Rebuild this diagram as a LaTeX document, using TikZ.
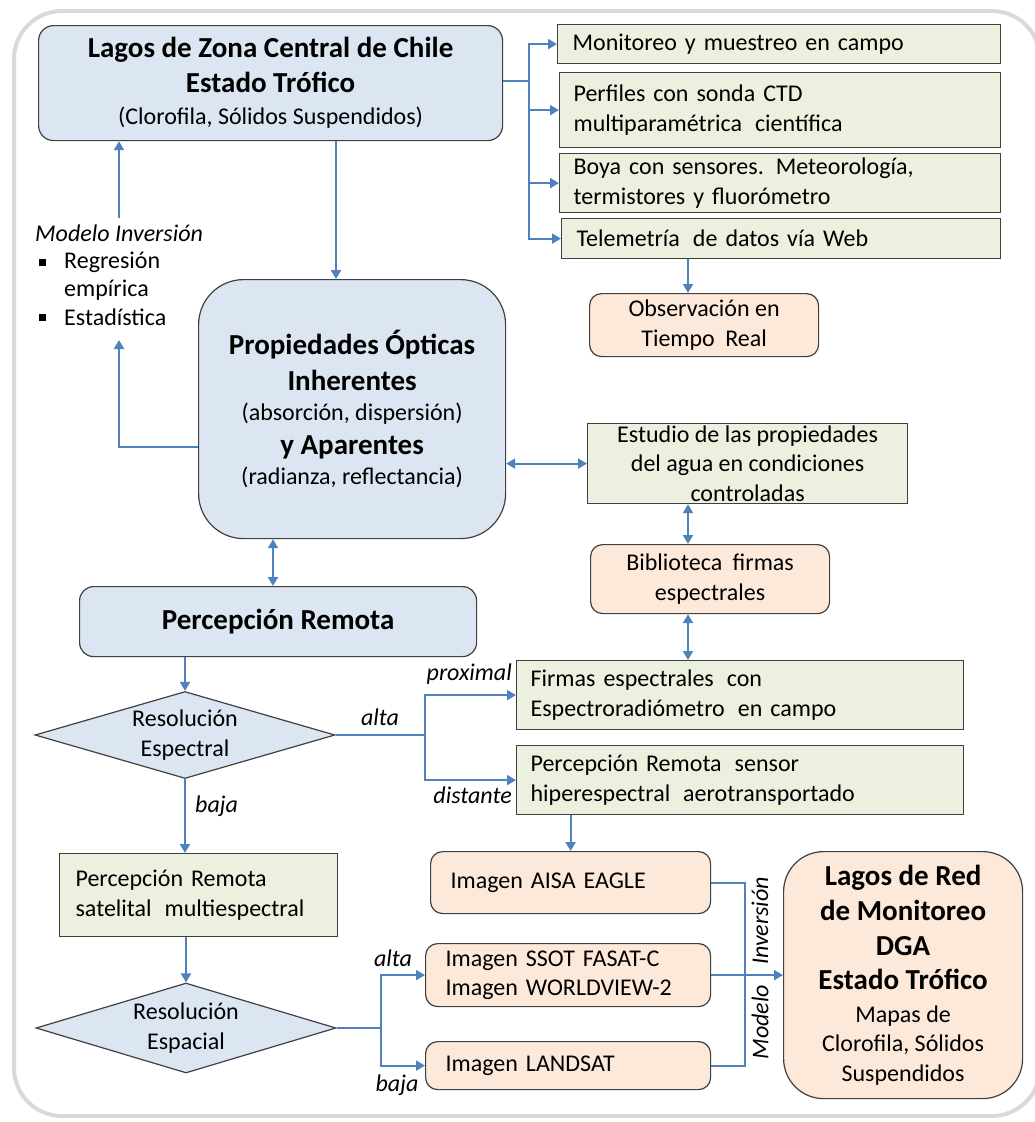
\documentclass[tikz,border=0pt]{standalone}
\usepackage{fontspec}
\setmainfont{Carlito}
\usetikzlibrary{shapes.geometric,arrows.meta,calc}
\definecolor{bluef}{HTML}{DCE6F2}
\definecolor{greenf}{HTML}{EBF1DE}
\definecolor{peachf}{HTML}{FDE9D9}
\definecolor{linec}{HTML}{4F81BD}
\definecolor{bordc}{HTML}{404040}
\definecolor{framec}{HTML}{D9D9D9}
\newcommand{\nf}{\fontsize{24}{29.5}\selectfont}
\newcommand{\bfb}{\fontsize{29}{29.5}\selectfont\bfseries}
\newcommand{\gap}{\hspace{5pt}\ }
\tikzset{
  box/.style={draw=bordc, line width=1.2pt, inner sep=0pt, anchor=north west, font=\nf},
  gbox/.style={box, fill=greenf},
  pbox/.style={box, fill=peachf, rounded corners=12pt},
  bbox/.style={box, fill=bluef, rounded corners=15pt},
  dia/.style={shape=diamond, draw=bordc, fill=bluef, line width=1.2pt, inner sep=0pt},
  conn/.style={draw=linec, line width=2pt},
  arr/.style={conn, -{Triangle[length=9pt,width=10pt]}},
  darr/.style={conn, {Triangle[length=9pt,width=10pt]}-{Triangle[length=9pt,width=10pt]}},
  lab/.style={font=\nf\itshape, inner sep=0pt},
  txt/.style={font=\nf, inner sep=0pt},
}
\begin{document}
\begin{tikzpicture}[x=1pt,y=-1pt]
\useasboundingbox (0,0) rectangle (1035,1122);
\draw[framec, line width=4pt, rounded corners=48pt] (14,11) rectangle (1040,1116);

% top box
\node[bbox, minimum width=464pt, minimum height=115pt, align=center] (top) at (38,25)
  {{\bfb Lagos de Zona Central de Chile}\\[5pt]{\bfb Estado Trófico}\\[3pt](Clorofila, Sólidos Suspendidos)};

% right column
\node[gbox, minimum width=443pt, minimum height=39pt, text width=413pt, align=left] (m1) at (557,24) {Monitoreo y muestreo en campo};
\node[gbox, minimum width=441pt, minimum height=75pt, text width=413pt, align=left] (m2) at (559,72) {Perfiles con sonda CTD\\multiparamétrica\gap científica};
\node[gbox, minimum width=441pt, minimum height=59pt, text width=413pt, align=left] (m3) at (559,153) {Boya con sensores. Meteorología,\\termistores y fluorómetro};
\node[gbox, minimum width=439pt, minimum height=40pt, text width=409pt, align=left] (m4) at (561,218) {Telemetría\gap de datos vía Web};
\node[pbox, minimum width=229pt, minimum height=63pt, align=center] (obs) at (589,293) {Observación en\\Tiempo\gap Real};

\coordinate (bx) at (529,81);
\draw[conn] (top.east |- bx) -- (bx);
\draw[arr] (bx) |- (m1.west);
\draw[arr] (bx) |- (m2.west);
\draw[arr] (bx) |- (m3.west);
\draw[arr] (bx) |- (m4.west);
\coordinate (x687) at (688,0);
\draw[arr] (m4.south -| x687) -- (obs.north -| x687);

% left notes
\node[lab, anchor=west] (mi) at (35,233) {Modelo Inversión};
\node[fill=black, inner sep=0pt, minimum size=7pt] (bu1) at (42,262) {};
\node[txt, anchor=west] (t1) at (64,262) {Regresión};
\node[txt, anchor=west] (t2) at (64,290) {empírica};
\node[fill=black, inner sep=0pt, minimum size=7pt] (bu2) at (42,317) {};
\node[txt, anchor=west] (t3) at (64,317) {Estadística};

% propiedades
\node[bbox, rounded corners=45pt, minimum width=307pt, minimum height=259pt, align=center] (prop) at (198,279)
  {{\bfb Propiedades Ópticas}\\[6pt]{\bfb Inherentes}\\[1pt](absorción, dispersión)\\[4pt]{\bfb y Aparentes}\\[1pt](radianza, reflectancia)};

\coordinate (a1) at (119,218);
\draw[arr] (a1) -- (a1 |- top.south);
\coordinate (x336) at (336,0);
\draw[arr] (top.south -| x336) -- (prop.north -| x336);
\coordinate (c447) at (119,447);
\coordinate (c340) at (119,340);
\draw[arr] (prop.west |- c447) -- (c447) -- (c340);

% estudio etc
\node[gbox, minimum width=320pt, minimum height=80pt, align=center] (est) at (587,423)
  {Estudio de las propiedades\\del agua en condiciones\\controladas};
\node[pbox, minimum width=239pt, minimum height=69pt, align=center] (bib) at (590,544) {Biblioteca\gap firmas\\espectrales};
\node[gbox, minimum width=447pt, minimum height=69pt, text width=419pt, align=left] (fir) at (516,660)
  {Firmas espectrales\gap con\\Espectroradiómetro\gap en campo};
\node[gbox, minimum width=447pt, minimum height=69pt, text width=419pt, align=left] (psen) at (516,745)
  {Percepción Remota\gap sensor\\hiperespectral\gap aerotransportado};

\draw[darr] (prop.east |- est.west) -- (est.west);
\draw[darr] (est.south -| x687) -- (bib.north -| x687);
\draw[darr] (bib.south -| x687) -- (fir.north -| x687);

% percepcion remota
\node[bbox, rounded corners=14pt, minimum width=397pt, minimum height=70pt, align=center] (pr) at (79,586) {\bfb Percepción Remota};
\coordinate (x273) at (273,0);
\draw[darr] (prop.south -| x273) -- (pr.north -| x273);

\node[dia, minimum width=300pt, minimum height=87pt] (d1) at (185,735) {};
\node[txt, align=center] (d1t) at (d1.center) {Resolución\\Espectral};
\draw[arr] (d1.north |- pr.south) -- (d1.north);

\coordinate (b1) at (425,735);
\draw[conn] (d1.east) -- (b1);
\draw[arr] (b1) |- (fir.west);
\draw[arr] (b1) |- (psen.west);
\node[lab] (l1) at (380,717) {alta};
\node[lab, anchor=east] (l2) at (512,674) {proximal};
\node[lab, anchor=east] (l3) at (512,795) {distante};

\node[gbox, minimum width=278pt, minimum height=83pt, text width=246pt, align=left] (sat) at (59,853)
  {Percepción Remota\\satelital\gap multiespectral};
\draw[arr] (d1.south) -- (d1.south |- sat.north);
\node[lab, anchor=west] (l4) at (195,806) {baja};

\node[dia, minimum width=300pt, minimum height=90pt] (d2) at (186,1028) {};
\node[txt, align=center] (d2t) at (d2.center) {Resolución\\Espacial};
\draw[arr] (d2.north |- sat.south) -- (d2.north);

% images
\node[pbox, minimum width=280pt, minimum height=62pt, text width=240pt, align=left] (aisa) at (430,851) {Imagen AISA EAGLE};
\node[pbox, minimum width=285pt, minimum height=63pt, text width=245pt, align=left] (ssot) at (425,943) {Imagen SSOT FASAT-C\\Imagen WORLDVIEW-2};
\node[pbox, minimum width=285pt, minimum height=48pt, text width=245pt, align=left] (land) at (425,1041) {Imagen LANDSAT};

\draw[arr] (aisa.north |- psen.south) -- (aisa.north);

\coordinate (b2) at (381,1028);
\draw[conn] (d2.east) -- (b2);
\draw[arr] (b2) |- (ssot.west);
\draw[arr] (b2) |- (land.west);
\node[lab] (l5) at (393,958) {alta};
\node[lab] (l6) at (397,1085) {baja};

% big box
\node[pbox, rounded corners=40pt, minimum width=239pt, minimum height=247pt, align=center] (big) at (783,851)
  {{\bfb Lagos de Red}\\[6pt]{\bfb de Monitoreo}\\[5pt]{\bfb DGA}\\[5pt]{\bfb Estado Trófico}\\[3pt]Mapas de\\Clorofila, Sólidos\\Suspendidos};

\coordinate (b3) at (745,0);
\draw[conn] (aisa.east) -| (b3 |- land.east) -- (land.east);
\draw[arr] (ssot.east) -- (big.west |- ssot.east);
\node[lab, rotate=90] (l7) at (760,921) {Inversión};
\node[lab, rotate=90] (l8) at (760,1022) {Modelo};
\end{tikzpicture}
\end{document}
